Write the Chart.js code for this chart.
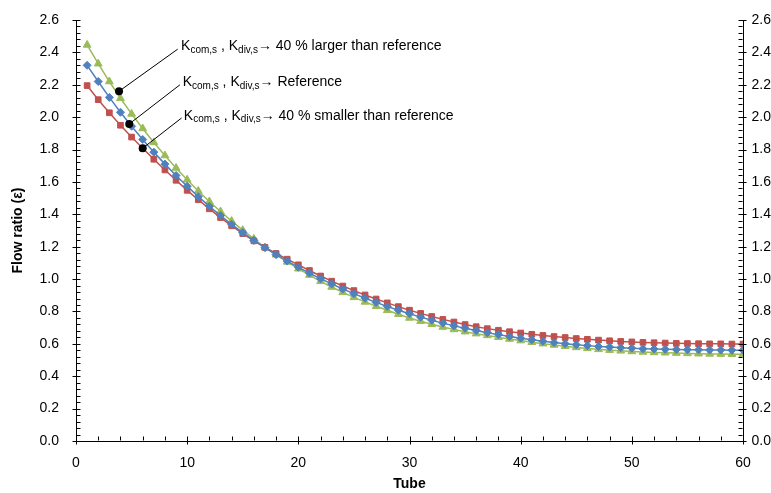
<!DOCTYPE html>
<html><head><meta charset="utf-8">
<script src="https://cdn.jsdelivr.net/npm/chart.js@4"></script>
<style>html,body{margin:0;padding:0;background:#fff}</style>
</head><body>
<canvas id="c" width="771" height="493"></canvas>
<script>
const tubes = [1,2,3,4,5,6,7,8,9,10,11,12,13,14,15,16,17,18,19,20,21,22,23,24,25,26,27,28,29,30,
  31,32,33,34,35,36,37,38,39,40,41,42,43,44,45,46,47,48,49,50,51,52,53,54,55,56,57,58,59,60];
const seriesNames = ['Reference', '40 % smaller than reference', '40 % larger than reference'];
const referenceValues = [2.320,2.220,2.122,2.030,1.944,1.862,1.784,1.710,1.640,1.573,
  1.509,1.449,1.392,1.338,1.287,1.239,1.194,1.151,1.111,1.073,
  1.037,1.002,0.970,0.939,0.910,0.882,0.856,0.831,0.808,0.786,
  0.765,0.746,0.728,0.711,0.696,0.682,0.669,0.657,0.646,0.635,
  0.625,0.616,0.608,0.601,0.595,0.589,0.584,0.580,0.576,0.573,
  0.570,0.568,0.566,0.565,0.564,0.563,0.562,0.562,0.561,0.561];
const smallerValues = [2.195,2.108,2.027,1.950,1.877,1.808,1.740,1.674,1.610,1.548,
  1.490,1.434,1.380,1.329,1.281,1.236,1.196,1.158,1.123,1.088,
  1.053,1.019,0.987,0.957,0.929,0.902,0.877,0.853,0.830,0.808,
  0.788,0.769,0.751,0.735,0.719,0.706,0.694,0.684,0.675,0.667,
  0.659,0.652,0.645,0.639,0.633,0.628,0.623,0.619,0.615,0.612,
  0.609,0.607,0.605,0.603,0.602,0.601,0.600,0.600,0.599,0.599];
const largerValues = [2.446,2.330,2.220,2.117,2.020,1.930,1.844,1.763,1.686,1.613,
  1.544,1.479,1.417,1.358,1.302,1.248,1.195,1.150,1.106,1.064,
  1.025,0.986,0.951,0.918,0.887,0.859,0.832,0.807,0.783,0.760,
  0.740,0.721,0.704,0.689,0.675,0.663,0.652,0.641,0.630,0.620,
  0.610,0.601,0.593,0.585,0.578,0.572,0.566,0.561,0.557,0.553,
  0.550,0.547,0.545,0.543,0.541,0.539,0.538,0.537,0.536,0.535];
const xTickValues = [0,10,20,30,40,50,60];
const yTickValues = [0,0.2,0.4,0.6,0.8,1.0,1.2,1.4,1.6,1.8,2.0,2.2,2.4,2.6];
const xTitle = 'Tube';
const yTitle = 'Flow ratio (ε)';
// annotation callouts (data coordinates)
const annoSuffix = ['→ 40 % larger than reference', '→ Reference', '→ 40 % smaller than reference'];
const annoDotX = [3.87, 4.79, 6.0];
const annoDotY = [2.16, 1.958, 1.808];
const annoLineEndX = [9.15, 9.35, 9.5];
const annoLineEndY = [2.42, 2.20, 1.995];
const annoTextX = [9.45, 9.6, 9.7];
const annoTextY = [2.437, 2.215, 2.009];

const FONT = '"Liberation Sans", Arial, sans-serif';
const colors = ['#4F81BD', '#C0504D', '#9BBB59'];
const styles = ['rectRot', 'rect', 'triangle'];
const radii = [4, 4, 4.5];
const valueSets = [referenceValues, smallerValues, largerValues];

const datasets = valueSets.map((vals, k) => ({
  label: seriesNames[k],
  data: tubes.map((t, i) => ({x: t, y: vals[i]})),
  borderColor: colors[k],
  backgroundColor: colors[k],
  borderWidth: 1.5,
  pointStyle: styles[k],
  pointRadius: radii[k],
  pointBorderWidth: 1,
  pointBorderColor: colors[k],
  pointBackgroundColor: colors[k],
  tension: 0
}));

const decor = {
  id: 'decor',
  afterDraw(chart) {
    const {ctx} = chart;
    const xs = chart.scales.x, ys = chart.scales.y;
    const area = chart.chartArea;
    const L = Math.round(area.left) + 0.5, R = Math.round(area.right) - 0.5, B = Math.round(area.bottom) - 0.5;
    ctx.save();
    ctx.strokeStyle = '#000';
    ctx.lineWidth = 1;
    ctx.beginPath();
    for (let i = 0; i < yTickValues.length; i++) {
      const v = yTickValues[i];
      const p = Math.round(ys.getPixelForValue(v)) + 0.5;
      ctx.moveTo(L - 4, p); ctx.lineTo(L + 4, p);
      ctx.moveTo(R - 4, p); ctx.lineTo(R + 4, p);
      if (i < yTickValues.length - 1) {
        const step = (yTickValues[i + 1] - v) / 5;
        for (let m = 1; m < 5; m++) {
          const q = Math.round(ys.getPixelForValue(v + step * m)) + 0.5;
          ctx.moveTo(L, q); ctx.lineTo(L + 4, q);
          ctx.moveTo(R, q); ctx.lineTo(R - 4, q);
        }
      }
    }
    for (let i = 0; i < xTickValues.length; i++) {
      const v = xTickValues[i];
      const p = Math.round(xs.getPixelForValue(v)) + 0.5;
      ctx.moveTo(p, B - 4); ctx.lineTo(p, B + 4);
      if (i < xTickValues.length - 1) {
        const step = (xTickValues[i + 1] - v) / 5;
        for (let m = 1; m < 5; m++) {
          const q = Math.round(xs.getPixelForValue(v + step * m)) + 0.5;
          ctx.moveTo(q, B); ctx.lineTo(q, B - 4);
        }
      }
    }
    ctx.stroke();
    for (let k = 0; k < annoSuffix.length; k++) {
      const dx = xs.getPixelForValue(annoDotX[k]), dy = ys.getPixelForValue(annoDotY[k]);
      const ex = xs.getPixelForValue(annoLineEndX[k]), ey = ys.getPixelForValue(annoLineEndY[k]);
      ctx.beginPath();
      ctx.moveTo(dx, dy); ctx.lineTo(ex, ey);
      ctx.stroke();
      ctx.beginPath();
      ctx.fillStyle = '#000';
      ctx.arc(dx, dy, 4, 0, Math.PI * 2);
      ctx.fill();
      const segs = [['K', 0], ['com,s', 1], [' , ', 0], ['K', 0], ['div,s', 1], [annoSuffix[k], 0]];
      let tx = xs.getPixelForValue(annoTextX[k]);
      const ty = ys.getPixelForValue(annoTextY[k]);
      ctx.textBaseline = 'middle';
      ctx.textAlign = 'left';
      for (const [t, sub] of segs) {
        ctx.font = (sub ? '10px ' : '14px ') + FONT;
        ctx.fillText(t, tx, sub ? ty + 4 : ty);
        tx += ctx.measureText(t).width;
      }
    }
    ctx.restore();
  }
};

const tickFont = {family: FONT, size: 14};
const titleFont = {family: FONT, size: 14, weight: 'bold'};

new Chart(document.getElementById('c'), {
  type: 'line',
  data: {datasets},
  options: {
    responsive: false,
    animation: false,
    layout: {padding: {top: 20, left: 0, right: 0, bottom: 0}},
    plugins: {legend: {display: false}, tooltip: {enabled: false}},
    scales: {
      x: {
        type: 'linear', min: 0, max: 60,
        grid: {display: false},
        border: {display: true, color: '#000', width: 1},
        ticks: {stepSize: 10, color: '#000', font: tickFont, padding: 6, maxRotation: 0},
        title: {display: true, text: xTitle, color: '#000', font: titleFont, padding: {top: 0, bottom: 0}},
        afterFit(s) { s.height = 52; }
      },
      y: {
        type: 'linear', position: 'left', min: 0, max: 2.6,
        grid: {display: false},
        border: {display: true, color: '#000', width: 1},
        ticks: {stepSize: 0.2, color: '#000', font: tickFont, padding: 9, callback: v => v.toFixed(1)},
        title: {display: true, text: yTitle, color: '#000', font: titleFont, padding: {top: 10, bottom: 0}},
        afterFit(s) { s.width = 76; }
      },
      y2: {
        type: 'linear', position: 'right', min: 0, max: 2.6,
        grid: {display: false},
        border: {display: true, color: '#000', width: 1},
        ticks: {stepSize: 0.2, color: '#000', font: tickFont, padding: 6, crossAlign: 'far', callback: v => v.toFixed(1)},
        afterFit(s) { s.width = 28; }
      }
    }
  },
  plugins: [decor]
});
</script>
</body></html>
